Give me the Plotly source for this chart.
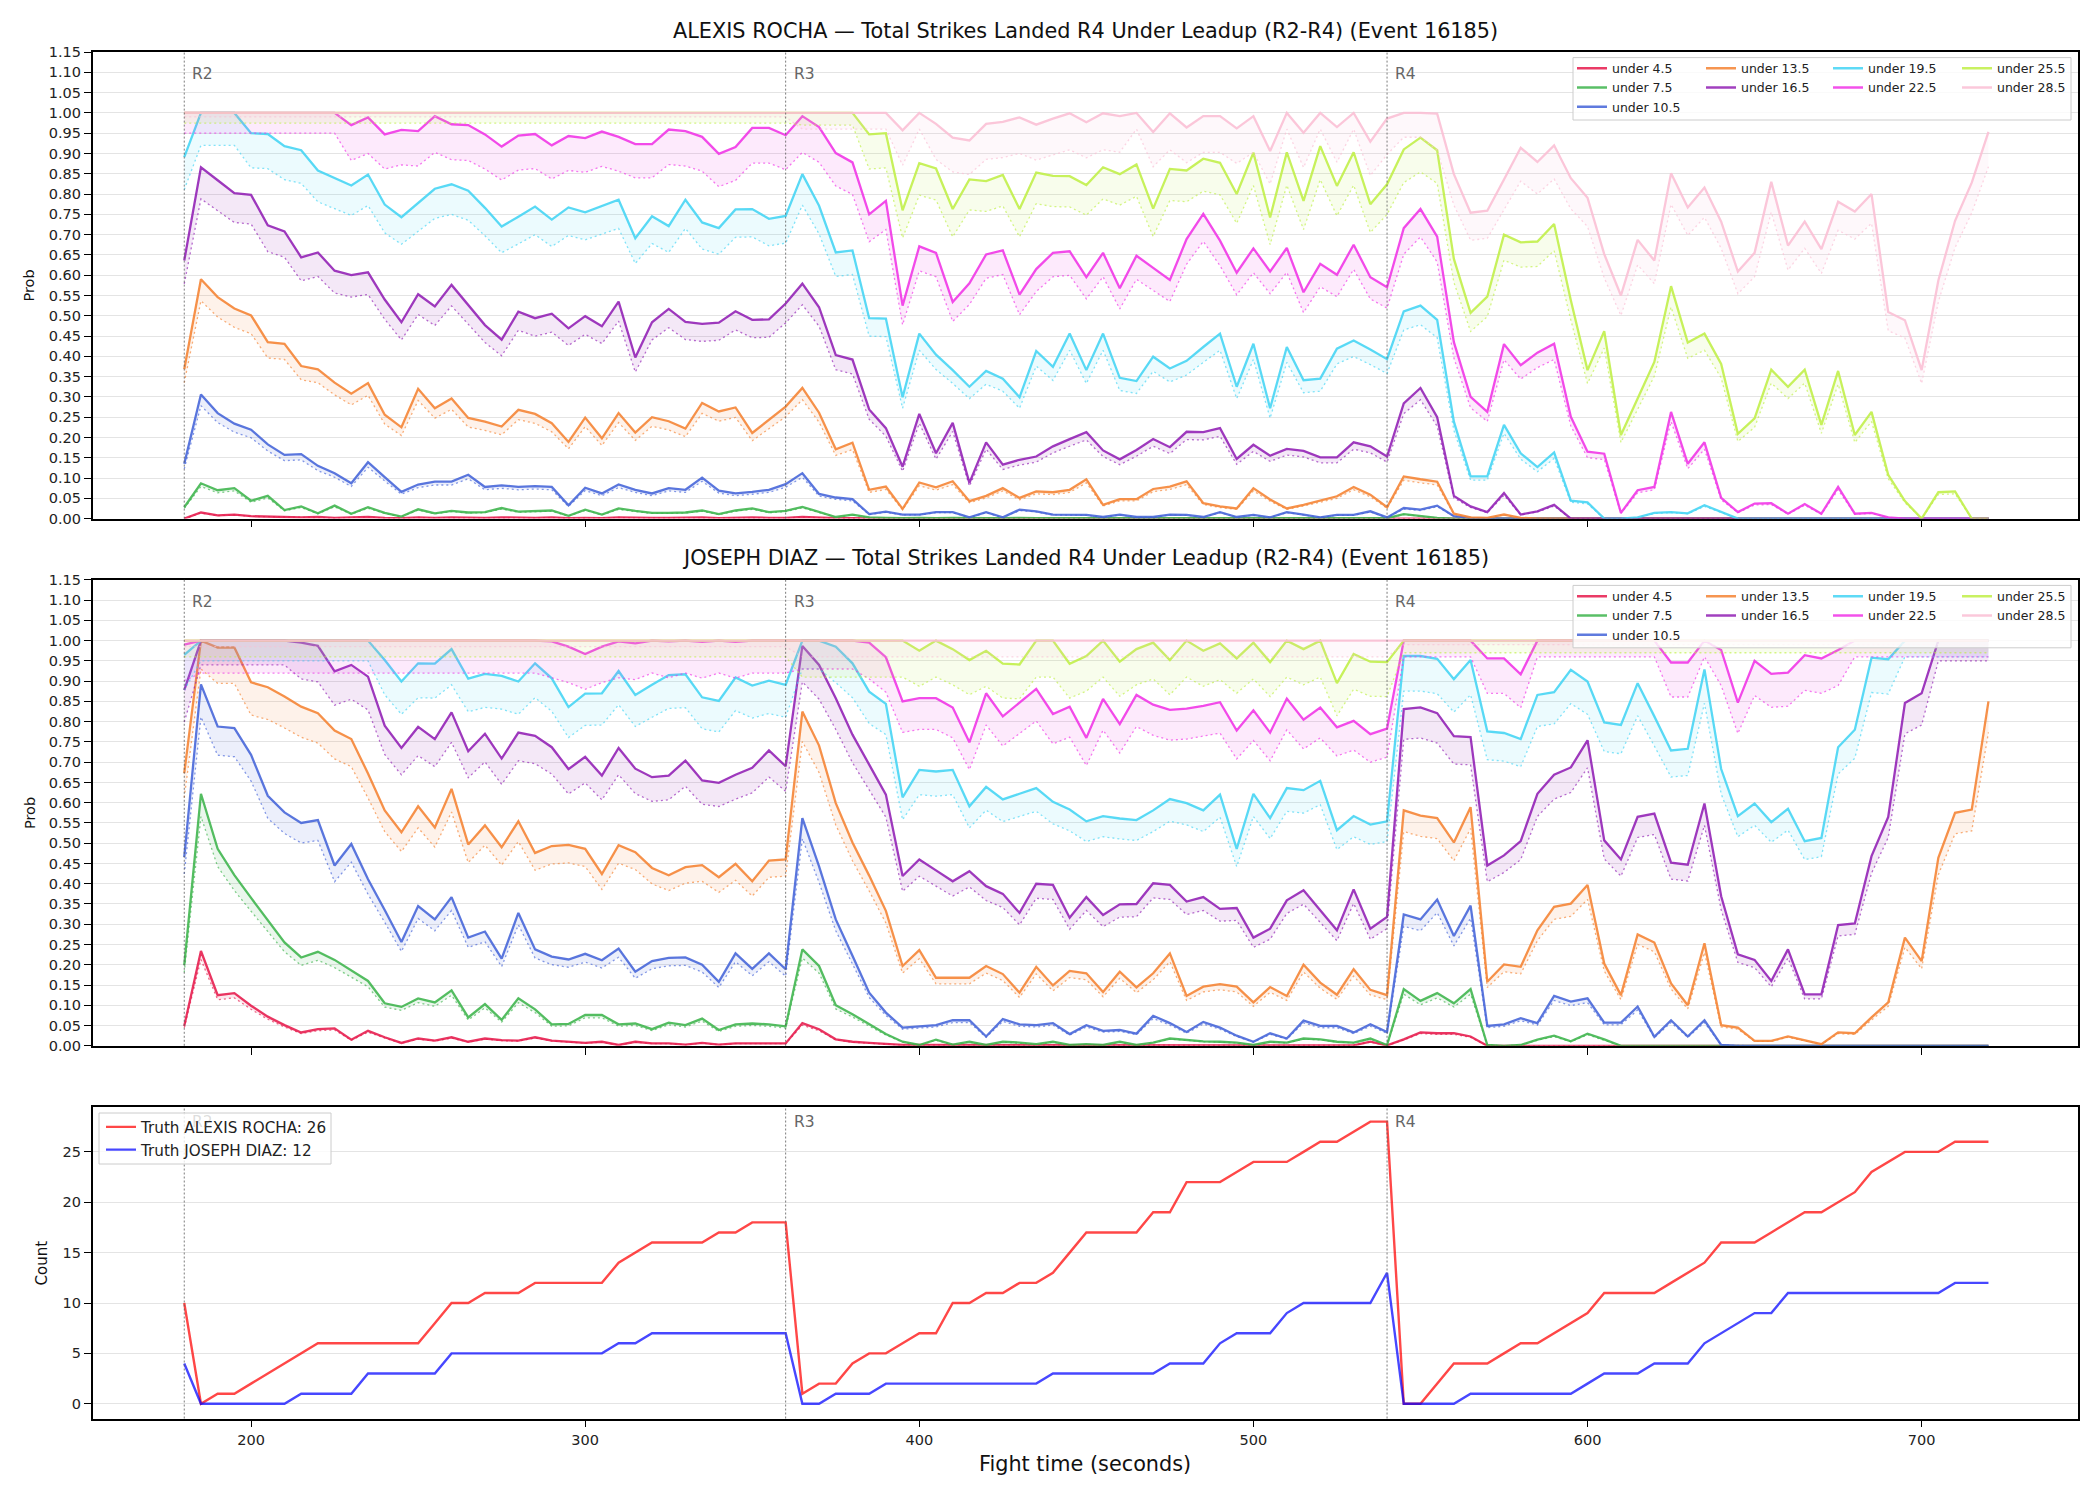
import plotly.graph_objects as go

# ---------------- data ----------------
TIME_S = list(range(180, 725, 5))          # 180 .. 720 s, every 5 s (109 points)
ROUND_STARTS = [180, 360, 540]
ROUND_LABELS = ["R2", "R3", "R4"]
X_TICKS = [200, 300, 400, 500, 600, 700]

SERIES = ["under 4.5", "under 7.5", "under 10.5", "under 13.5", "under 16.5",
          "under 19.5", "under 22.5", "under 25.5", "under 28.5"]
COLORS = ["#e6194b", "#3cb44b", "#4363d8", "#f58231", "#911eb4",
          "#42d4f4", "#f032e6", "#bfef45", "#fabed4"]

# ---- ALEXIS ROCHA probabilities (solid line) : R2 part + R3 part + R4 part
ROCHA_U4_5 = ([0.0, 0.015, 0.008, 0.010, 0.006, 0.005, 0.004, 0.003, 0.004, 0.002,
               0.003, 0.004, 0.002, 0.001, 0.003, 0.002, 0.003, 0.002, 0.002, 0.003,
               0.002, 0.002, 0.003, 0.001, 0.002, 0.001, 0.003, 0.002, 0.002, 0.002,
               0.002, 0.003, 0.001, 0.002, 0.003, 0.002, 0.002]
              + [0.004, 0.002, 0.001, 0.001] + [0.0] * 32 + [0.0] * 36)
ROCHA_U7_5 = ([0.028, 0.087, 0.070, 0.075, 0.044, 0.056, 0.021, 0.030, 0.013, 0.032,
               0.012, 0.028, 0.014, 0.005, 0.023, 0.013, 0.019, 0.015, 0.016, 0.026,
               0.017, 0.018, 0.020, 0.007, 0.022, 0.010, 0.025, 0.019, 0.014, 0.014,
               0.015, 0.020, 0.011, 0.020, 0.025, 0.016, 0.019]
              + [0.029, 0.016, 0.004, 0.010, 0.003, 0.002, 0.001, 0.002, 0.001, 0.002,
                 0.001, 0.001, 0.001, 0.002, 0.001, 0.001, 0.001, 0.002, 0.001, 0.001,
                 0.001, 0.001, 0.001, 0.002, 0.001, 0.001, 0.001, 0.001, 0.001, 0.001,
                 0.001, 0.001, 0.002, 0.001, 0.001, 0.001]
              + [0.011, 0.006, 0.002] + [0.0] * 33)
ROCHA_U10_5 = ([0.135, 0.306, 0.260, 0.234, 0.219, 0.183, 0.157, 0.159, 0.130, 0.112,
                0.087, 0.139, 0.102, 0.066, 0.084, 0.091, 0.091, 0.108, 0.078, 0.082,
                0.078, 0.080, 0.078, 0.033, 0.076, 0.062, 0.084, 0.071, 0.062, 0.075,
                0.071, 0.101, 0.069, 0.062, 0.066, 0.071, 0.085]
               + [0.112, 0.061, 0.052, 0.048, 0.011, 0.017, 0.010, 0.010, 0.016, 0.016,
                  0.003, 0.016, 0.003, 0.022, 0.018, 0.010, 0.010, 0.009, 0.004, 0.010,
                  0.004, 0.004, 0.010, 0.009, 0.004, 0.016, 0.004, 0.009, 0.003, 0.016,
                  0.010, 0.003, 0.009, 0.009, 0.018, 0.003]
               + [0.026, 0.022, 0.032, 0.006, 0.002] + [0.0] * 31)
ROCHA_U13_5 = ([0.368, 0.590, 0.546, 0.518, 0.501, 0.435, 0.431, 0.376, 0.368, 0.335,
                0.308, 0.334, 0.256, 0.225, 0.320, 0.272, 0.296, 0.248, 0.239, 0.227,
                0.268, 0.258, 0.235, 0.189, 0.249, 0.198, 0.260, 0.212, 0.250, 0.240,
                0.222, 0.285, 0.264, 0.274, 0.211, 0.244, 0.276]
               + [0.322, 0.261, 0.171, 0.187, 0.071, 0.079, 0.024, 0.089, 0.077, 0.092,
                  0.043, 0.056, 0.075, 0.051, 0.067, 0.065, 0.071, 0.097, 0.034, 0.048,
                  0.048, 0.073, 0.079, 0.092, 0.038, 0.030, 0.025, 0.075, 0.047, 0.025,
                  0.034, 0.045, 0.055, 0.078, 0.059, 0.028]
               + [0.104, 0.097, 0.091, 0.012, 0.003, 0.002, 0.010, 0.002] + [0.0] * 28)
ROCHA_U16_5 = ([0.636, 0.866, 0.834, 0.802, 0.798, 0.723, 0.708, 0.644, 0.656, 0.611,
                0.600, 0.607, 0.540, 0.484, 0.553, 0.523, 0.576, 0.526, 0.477, 0.441,
                0.510, 0.494, 0.505, 0.469, 0.499, 0.474, 0.535, 0.397, 0.484, 0.517,
                0.485, 0.480, 0.483, 0.511, 0.490, 0.491, 0.530]
               + [0.579, 0.521, 0.403, 0.392, 0.269, 0.223, 0.128, 0.258, 0.161, 0.236,
                  0.088, 0.188, 0.133, 0.145, 0.153, 0.178, 0.196, 0.213, 0.168, 0.146,
                  0.169, 0.196, 0.176, 0.214, 0.213, 0.223, 0.147, 0.182, 0.155, 0.172,
                  0.167, 0.151, 0.151, 0.188, 0.178, 0.153]
               + [0.284, 0.322, 0.250, 0.056, 0.030, 0.016, 0.063, 0.010, 0.018, 0.034]
               + [0.0] * 26)
ROCHA_U19_5 = ([0.891, 1.0, 1.0, 1.0, 0.950, 0.948, 0.918, 0.908, 0.858, 0.840,
                0.821, 0.848, 0.774, 0.743, 0.779, 0.813, 0.824, 0.808, 0.766, 0.720,
                0.744, 0.769, 0.737, 0.767, 0.755, 0.771, 0.786, 0.691, 0.745, 0.721,
                0.786, 0.730, 0.716, 0.762, 0.763, 0.739, 0.746]
               + [0.849, 0.771, 0.656, 0.661, 0.494, 0.493, 0.299, 0.456, 0.404, 0.366,
                  0.325, 0.364, 0.345, 0.299, 0.413, 0.374, 0.456, 0.366, 0.456, 0.347,
                  0.339, 0.399, 0.370, 0.389, 0.423, 0.456, 0.325, 0.431, 0.272, 0.423,
                  0.341, 0.345, 0.419, 0.439, 0.417, 0.393]
               + [0.511, 0.525, 0.490, 0.239, 0.104, 0.104, 0.231, 0.161, 0.127, 0.163,
                  0.044, 0.040, 0.0, 0.0, 0.003, 0.014, 0.016, 0.013, 0.033, 0.016, 0.0]
               + [0.0] * 15)
ROCHA_U22_5 = ([1.0] * 10
               + [0.970, 0.989, 0.947, 0.958, 0.955, 0.992, 0.972, 0.970, 0.947, 0.917,
                  0.944, 0.948, 0.920, 0.943, 0.938, 0.954, 0.941, 0.923, 0.923, 0.959,
                  0.955, 0.941, 0.899, 0.916, 0.963, 0.963, 0.945]
               + [0.992, 0.965, 0.901, 0.878, 0.750, 0.783, 0.525, 0.671, 0.655, 0.534,
                  0.580, 0.651, 0.661, 0.552, 0.615, 0.655, 0.659, 0.595, 0.655, 0.568,
                  0.648, 0.618, 0.588, 0.689, 0.751, 0.685, 0.606, 0.666, 0.609, 0.667,
                  0.558, 0.628, 0.601, 0.675, 0.595, 0.570]
               + [0.716, 0.763, 0.695, 0.435, 0.300, 0.263, 0.430, 0.378, 0.409, 0.431,
                  0.251, 0.165, 0.160, 0.014, 0.070, 0.078, 0.263, 0.135, 0.188, 0.051,
                  0.016, 0.037, 0.038, 0.012, 0.036, 0.012, 0.078, 0.012, 0.014, 0.003]
               + [0.0] * 6)
ROCHA_U25_5 = ([1.0] * 37
               + [1.0, 1.0, 1.0, 1.0, 0.947, 0.950, 0.760, 0.876, 0.863, 0.763,
                  0.836, 0.832, 0.847, 0.763, 0.853, 0.845, 0.844, 0.822, 0.866, 0.849,
                  0.873, 0.764, 0.862, 0.858, 0.887, 0.877, 0.800, 0.902, 0.742, 0.903,
                  0.783, 0.918, 0.820, 0.903, 0.775, 0.824]
               + [0.910, 0.939, 0.908, 0.640, 0.507, 0.547, 0.700, 0.681, 0.683, 0.726,
                  0.538, 0.366, 0.462, 0.206, 0.296, 0.386, 0.573, 0.434, 0.456, 0.381,
                  0.209, 0.247, 0.367, 0.325, 0.367, 0.231, 0.364, 0.206, 0.263, 0.108,
                  0.043, 0.0, 0.065, 0.067, 0.0, 0.0])
ROCHA_U28_5 = ([1.0] * 37
               + [1.0, 1.0, 1.0, 1.0, 1.0, 1.0, 0.957, 1.0, 0.973, 0.939,
                  0.932, 0.973, 0.978, 0.989, 0.971, 0.986, 0.999, 0.977, 0.999, 0.992,
                  1.0, 0.953, 0.999, 0.964, 0.992, 0.992, 0.962, 0.992, 0.906, 1.0,
                  0.951, 1.0, 0.965, 1.0, 0.929, 0.986]
               + [1.0, 1.0, 0.998, 0.849, 0.754, 0.759, 0.836, 0.914, 0.879, 0.920,
                  0.839, 0.791, 0.652, 0.550, 0.687, 0.636, 0.851, 0.767, 0.816, 0.732,
                  0.609, 0.655, 0.830, 0.673, 0.732, 0.664, 0.781, 0.757, 0.800, 0.509,
                  0.489, 0.366, 0.587, 0.734, 0.828, 0.953])

# ---- JOSEPH DIAZ probabilities (solid line)
DIAZ_U4_5 = ([0.049, 0.234, 0.125, 0.130, 0.099, 0.072, 0.051, 0.033, 0.041, 0.043,
              0.015, 0.037, 0.021, 0.007, 0.018, 0.013, 0.021, 0.010, 0.018, 0.014,
              0.013, 0.021, 0.013, 0.010, 0.007, 0.010, 0.002, 0.010, 0.006, 0.006,
              0.003, 0.007, 0.003, 0.006, 0.006, 0.006, 0.006]
             + [0.056, 0.041, 0.016, 0.010, 0.007, 0.004, 0.002, 0.002, 0.002]
             + [0.001] * 25 + [0.010, 0.001]
             + [0.016, 0.033, 0.031, 0.031, 0.023] + [0.0] * 31)
DIAZ_U7_5 = ([0.199, 0.622, 0.486, 0.421, 0.365, 0.310, 0.255, 0.218, 0.232, 0.212,
              0.185, 0.160, 0.105, 0.096, 0.117, 0.107, 0.137, 0.070, 0.103, 0.064,
              0.117, 0.090, 0.053, 0.054, 0.076, 0.076, 0.053, 0.055, 0.041, 0.057,
              0.051, 0.067, 0.039, 0.053, 0.055, 0.053, 0.048]
             + [0.238, 0.197, 0.100, 0.078, 0.053, 0.029, 0.010, 0.002, 0.015, 0.003,
                0.010, 0.002, 0.010, 0.008, 0.004, 0.010, 0.002, 0.004, 0.002, 0.010,
                0.002, 0.008, 0.018, 0.015, 0.011, 0.010, 0.008, 0.002, 0.010, 0.008,
                0.018, 0.016, 0.010, 0.008, 0.018, 0.002]
             + [0.140, 0.111, 0.130, 0.105, 0.140, 0.002, 0.0, 0.002, 0.015, 0.025,
                0.011, 0.030, 0.016] + [0.0] * 23)
DIAZ_U10_5 = ([0.466, 0.892, 0.788, 0.784, 0.718, 0.617, 0.576, 0.550, 0.557, 0.445,
               0.498, 0.411, 0.335, 0.256, 0.345, 0.312, 0.367, 0.267, 0.282, 0.215,
               0.328, 0.238, 0.220, 0.213, 0.227, 0.211, 0.240, 0.183, 0.209, 0.217,
               0.218, 0.200, 0.158, 0.228, 0.190, 0.228, 0.189]
              + [0.562, 0.443, 0.312, 0.222, 0.131, 0.082, 0.045, 0.048, 0.051, 0.063,
                 0.063, 0.023, 0.066, 0.053, 0.051, 0.056, 0.029, 0.051, 0.037, 0.039,
                 0.030, 0.074, 0.056, 0.034, 0.059, 0.045, 0.025, 0.010, 0.031, 0.018,
                 0.062, 0.049, 0.049, 0.033, 0.053, 0.034]
              + [0.324, 0.312, 0.361, 0.271, 0.346, 0.049, 0.053, 0.068, 0.056, 0.123,
                 0.109, 0.117, 0.057, 0.057, 0.097, 0.022, 0.063, 0.023, 0.063, 0.002]
              + [0.0] * 16)
DIAZ_U13_5 = ([0.673, 1.0, 0.983, 0.983, 0.897, 0.885, 0.862, 0.837, 0.821, 0.778,
               0.757, 0.672, 0.581, 0.527, 0.591, 0.539, 0.634, 0.497, 0.544, 0.490,
               0.554, 0.476, 0.493, 0.496, 0.486, 0.424, 0.495, 0.478, 0.439, 0.421,
               0.441, 0.446, 0.416, 0.449, 0.406, 0.457, 0.460]
              + [0.825, 0.741, 0.599, 0.502, 0.420, 0.333, 0.197, 0.236, 0.168, 0.168,
                 0.168, 0.197, 0.177, 0.131, 0.195, 0.149, 0.185, 0.179, 0.133, 0.183,
                 0.144, 0.179, 0.228, 0.123, 0.146, 0.152, 0.146, 0.107, 0.145, 0.123,
                 0.200, 0.156, 0.126, 0.189, 0.138, 0.125]
              + [0.581, 0.568, 0.562, 0.502, 0.589, 0.158, 0.201, 0.195, 0.285, 0.343,
                 0.351, 0.397, 0.203, 0.125, 0.275, 0.255, 0.154, 0.100, 0.253, 0.051,
                 0.045, 0.012, 0.012, 0.023, 0.014, 0.004, 0.033, 0.031, 0.070, 0.107,
                 0.267, 0.209, 0.464, 0.575, 0.583, 0.850])
DIAZ_U16_5 = ([0.878, 1.0, 1.0, 1.0, 1.0, 1.0, 1.0, 0.995, 0.987, 0.924,
               0.940, 0.911, 0.790, 0.735, 0.787, 0.757, 0.823, 0.727, 0.770, 0.709,
               0.773, 0.765, 0.737, 0.683, 0.713, 0.667, 0.735, 0.684, 0.663, 0.667,
               0.704, 0.655, 0.649, 0.669, 0.686, 0.729, 0.690]
              + [0.987, 0.940, 0.858, 0.768, 0.694, 0.620, 0.419, 0.460, 0.433, 0.406,
                 0.431, 0.394, 0.375, 0.328, 0.400, 0.397, 0.316, 0.367, 0.323, 0.349,
                 0.350, 0.401, 0.397, 0.356, 0.367, 0.338, 0.340, 0.267, 0.289, 0.359,
                 0.384, 0.335, 0.285, 0.386, 0.289, 0.318]
              + [0.831, 0.835, 0.821, 0.764, 0.762, 0.445, 0.470, 0.505, 0.622, 0.669,
                 0.687, 0.754, 0.507, 0.460, 0.565, 0.573, 0.452, 0.447, 0.598, 0.369,
                 0.226, 0.212, 0.160, 0.238, 0.127, 0.127, 0.298, 0.302, 0.468, 0.565,
                 0.846, 0.870, 1.0, 1.0, 1.0, 1.0])
DIAZ_U19_5 = ([0.965] + [1.0] * 11
              + [0.952, 0.899, 0.944, 0.943, 0.979, 0.906, 0.918, 0.913,
                 0.899, 0.944, 0.907, 0.836, 0.869, 0.870, 0.925, 0.866, 0.891, 0.915,
                 0.917, 0.860, 0.851, 0.909, 0.889, 0.901, 0.891]
              + [1.0, 1.0, 0.985, 0.944, 0.874, 0.844, 0.613, 0.681, 0.677, 0.681,
                 0.591, 0.639, 0.608, 0.622, 0.636, 0.602, 0.583, 0.554, 0.567, 0.561,
                 0.557, 0.581, 0.609, 0.599, 0.581, 0.620, 0.486, 0.622, 0.562, 0.636,
                 0.631, 0.654, 0.532, 0.567, 0.546, 0.554]
              + [0.962, 0.962, 0.955, 0.905, 0.952, 0.776, 0.772, 0.757, 0.866, 0.873,
                 0.928, 0.899, 0.798, 0.792, 0.895, 0.813, 0.729, 0.733, 0.929, 0.683,
                 0.567, 0.598, 0.552, 0.585, 0.505, 0.513, 0.737, 0.780, 0.958, 0.954]
              + [1.0] * 6)
DIAZ_U22_5 = ([0.99] + [1.0] * 21
              + [0.998, 0.985, 0.967, 0.985, 0.998, 0.993, 1.0, 0.998, 1.0, 0.997,
                 1.0, 0.997, 1.0, 1.0, 1.0]
              + [1.0, 1.0, 1.0, 1.0, 0.995, 0.959, 0.850, 0.858, 0.858, 0.835,
                 0.749, 0.870, 0.813, 0.846, 0.881, 0.819, 0.837, 0.760, 0.856, 0.794,
                 0.866, 0.842, 0.829, 0.832, 0.839, 0.848, 0.778, 0.828, 0.773, 0.857,
                 0.805, 0.835, 0.786, 0.802, 0.769, 0.783]
              + [1.0] * 5 + [0.956, 0.956, 0.917] + [1.0] * 8
              + [0.946, 0.946, 1.0, 0.977, 0.847, 0.950, 0.918, 0.921, 0.964, 0.956, 0.977]
              + [1.0] * 9)
DIAZ_U25_5 = ([1.0] * 37
              + [1.0] * 7
              + [0.975, 1.0, 0.979,
                 0.952, 0.975, 0.943, 0.941, 1.0, 1.0, 0.943, 0.962, 1.0, 0.948,
                 0.979, 0.995, 0.952, 1.0, 0.975, 0.993, 0.956, 0.995, 0.947, 1.0,
                 0.979, 1.0, 0.895, 0.967, 0.948, 0.947]
              + [1.0] * 36)
DIAZ_U28_5 = [1.0] * 109

# dotted "raw" line: read as ~0.91 x solid line where the solid line is below 1,
# and as the per-round level read off the chart where the solid line sits at 1.0
DOTTED_RATIO = 0.91
ROCHA_SAT_DOTTED = {"under 19.5": (0.92, 0.93, 0.95), "under 22.5": (0.95, 0.93, 0.95),
                    "under 25.5": (0.975, 0.97, 0.95), "under 28.5": (0.99, 0.96, 0.94)}
DIAZ_SAT_DOTTED = {"under 13.5": (0.93, 0.93, 0.93), "under 16.5": (0.94, 0.93, 0.95),
                   "under 19.5": (0.95, 0.93, 0.96), "under 22.5": (0.92, 0.93, 0.96),
                   "under 25.5": (0.96, 0.91, 0.97), "under 28.5": (0.985, 0.96, 0.99)}

# ---- truth counts
TRUTH_ROCHA = ([10, 0, 1, 1, 2, 3, 4, 5, 6, 6, 6, 6, 6, 6, 6, 8, 10, 10, 11, 11, 11, 12, 12,
                12, 12, 12, 14, 15, 16, 16, 16, 16, 17, 17, 18, 18, 18]
               + [1, 2, 2, 4, 5, 5, 6, 7, 7, 10, 10, 11, 11, 12, 12, 13, 15, 17, 17, 17, 17,
                  19, 19, 22, 22, 22, 23, 24, 24, 24, 25, 26, 26, 27, 28, 28]
               + [0, 0, 2, 4, 4, 4, 5, 6, 6, 7, 8, 9, 11, 11, 11, 11, 12, 13, 14, 16, 16, 16,
                  17, 18, 19, 19, 20, 21, 23, 24, 25, 25, 25, 26, 26, 26])
TRUTH_DIAZ = ([4, 0, 0, 0, 0, 0, 0, 1, 1, 1, 1, 3, 3, 3, 3, 3, 5, 5, 5, 5, 5, 5, 5, 5, 5, 5,
               6, 6, 7, 7, 7, 7, 7, 7, 7, 7, 7]
              + [0, 0, 1, 1, 1, 2, 2, 2, 2, 2, 2, 2, 2, 2, 2, 3, 3, 3, 3, 3, 3, 3, 4, 4, 4,
                 6, 7, 7, 7, 9, 10, 10, 10, 10, 10, 13]
              + [0, 0, 0, 0, 1, 1, 1, 1, 1, 1, 1, 2, 3, 3, 3, 4, 4, 4, 6, 7, 8, 9, 9, 11, 11,
                 11, 11, 11, 11, 11, 11, 11, 11, 12, 12, 12])

ROCHA = dict(zip(SERIES, [ROCHA_U4_5, ROCHA_U7_5, ROCHA_U10_5, ROCHA_U13_5, ROCHA_U16_5,
                          ROCHA_U19_5, ROCHA_U22_5, ROCHA_U25_5, ROCHA_U28_5]))
DIAZ = dict(zip(SERIES, [DIAZ_U4_5, DIAZ_U7_5, DIAZ_U10_5, DIAZ_U13_5, DIAZ_U16_5,
                         DIAZ_U19_5, DIAZ_U22_5, DIAZ_U25_5, DIAZ_U28_5]))

for nm, d in (("ROCHA", ROCHA), ("DIAZ", DIAZ)):
    for s, v in d.items():
        if len(v) != len(TIME_S):
            raise ValueError(f"{nm} {s}: {len(v)} values")
for nm, v in (("TRUTH_ROCHA", TRUTH_ROCHA), ("TRUTH_DIAZ", TRUTH_DIAZ)):
    if len(v) != len(TIME_S):
        raise ValueError(f"{nm}: {len(v)} values")

# ---------------- figure ----------------
W, H = 2100, 1500
FONT = "DejaVu Sans"
X0, X1 = 92.7 / W, 2078 / W
XRANGE = [152.6, 746.8]
DOM_TOP = [1 - 518.6 / H, 1 - 52 / H]
DOM_MID = [1 - 1045.8 / H, 1 - 579.8 / H]
DOM_BOT = [1 - 1418.5 / H, 1 - 1107 / H]


def rgba(hexc, a):
    h = hexc.lstrip("#")
    r, g, b = int(h[0:2], 16), int(h[2:4], 16), int(h[4:6], 16)
    return f"rgba({r},{g},{b},{a})"


def dotted_line(vals, sat):
    out = []
    for i, v in enumerate(vals):
        r = 0 if i <= 36 else (1 if i <= 72 else 2)
        out.append(sat[r] if v >= 0.9995 else v * DOTTED_RATIO)
    return out


fig = go.Figure()


def add_panel(data, satmap, xa, ya):
    for name, col in zip(SERIES, COLORS):
        main = data[name]
        low = dotted_line(main, satmap.get(name, (0.95, 0.95, 0.95)))
        fig.add_trace(go.Scatter(x=TIME_S, y=low, xaxis=xa, yaxis=ya, mode="lines",
                                 line=dict(color=rgba(col, 0.65), width=1.3, dash="2px,3px"),
                                 showlegend=False, hoverinfo="skip"))
        fig.add_trace(go.Scatter(x=TIME_S, y=main, xaxis=xa, yaxis=ya, mode="lines",
                                 fill="tonexty", fillcolor=rgba(col, 0.10),
                                 line=dict(color=rgba(col, 0.88), width=2.3),
                                 showlegend=False, name=name))


add_panel(ROCHA, ROCHA_SAT_DOTTED, "x", "y")
add_panel(DIAZ, DIAZ_SAT_DOTTED, "x2", "y2")

fig.add_trace(go.Scatter(x=TIME_S, y=TRUTH_ROCHA, xaxis="x3", yaxis="y3", mode="lines",
                         line=dict(color="rgba(255,0,0,0.72)", width=2.4),
                         name="Truth ALEXIS ROCHA: 26", legend="legend9"))
fig.add_trace(go.Scatter(x=TIME_S, y=TRUTH_DIAZ, xaxis="x3", yaxis="y3", mode="lines",
                         line=dict(color="rgba(0,0,255,0.72)", width=2.4),
                         name="Truth JOSEPH DIAZ: 12", legend="legend9"))

# legend entries (4 columns, column-major like the reference)
LEG_COLS = [["under 4.5", "under 7.5", "under 10.5"], ["under 13.5", "under 16.5"],
            ["under 19.5", "under 22.5"], ["under 25.5", "under 28.5"]]
LEG_X = [1572 / W, 1701 / W, 1828 / W, 1957 / W]
col_of = dict(zip(SERIES, COLORS))
legend_layouts = {}
for p, (ya, ytop) in enumerate((("y", 1 - 53.7 / H), ("y2", 1 - 581.5 / H))):
    for c, names in enumerate(LEG_COLS):
        lid = "legend" if (p == 0 and c == 0) else f"legend{p * 4 + c + 1}"
        for nm in names:
            fig.add_trace(go.Scatter(x=[None], y=[None], xaxis="x" if ya == "y" else "x2", yaxis=ya,
                                     mode="lines", line=dict(color=rgba(col_of[nm], 0.85), width=2.5),
                                     name=nm, legend=lid, showlegend=True))
        legend_layouts[lid] = dict(x=LEG_X[c], y=ytop, xanchor="left", yanchor="top",
                                   orientation="v", bgcolor="rgba(0,0,0,0)", borderwidth=0,
                                   font=dict(family=FONT, size=12.5, color="#222"),
                                   tracegroupgap=0, itemwidth=30, traceorder="normal")
legend_layouts["legend9"] = dict(x=101 / W, y=1 - 1110.5 / H, xanchor="left", yanchor="top",
                                 orientation="v", bgcolor="rgba(0,0,0,0)", borderwidth=0,
                                 font=dict(family=FONT, size=15.2, color="#222"),
                                 tracegroupgap=0, itemwidth=30, traceorder="normal")

axis_common = dict(showline=True, mirror=True, linecolor="black", linewidth=1.5,
                   ticks="outside", ticklen=7, tickwidth=1.4, tickcolor="black",
                   tickfont=dict(family=FONT, size=14.5, color="#222"), zeroline=False,
                   automargin=False)

xaxis_common = dict(axis_common, range=XRANGE, tickmode="array", tickvals=X_TICKS,
                    showgrid=False, domain=[X0, X1])

layout = dict(
    width=W, height=H, margin=dict(l=0, r=0, t=0, b=0, pad=0, autoexpand=False),
    paper_bgcolor="white", plot_bgcolor="white", showlegend=True,
    xaxis=dict(xaxis_common, anchor="y", showticklabels=False),
    xaxis2=dict(xaxis_common, anchor="y2", showticklabels=False),
    xaxis3=dict(xaxis_common, anchor="y3", showticklabels=True),
    yaxis=dict(axis_common, domain=DOM_TOP, anchor="x", range=[0, 1.1501], tick0=0, dtick=0.05,
               tickformat=".2f", showgrid=True, gridcolor="#e4e4e4", gridwidth=1),
    yaxis2=dict(axis_common, domain=DOM_MID, anchor="x2", range=[0, 1.1501], tick0=0, dtick=0.05,
                tickformat=".2f", showgrid=True, gridcolor="#e4e4e4", gridwidth=1),
    yaxis3=dict(axis_common, domain=DOM_BOT, anchor="x3", range=[-1.46, 29.45], tick0=0, dtick=5,
                showgrid=True, gridcolor="#e4e4e4", gridwidth=1),
)
layout.update(legend_layouts)
fig.update_layout(**layout)

# round marker lines + labels
shapes = []
annotations = []
for xa, ya in (("x", "y"), ("x2", "y2"), ("x3", "y3")):
    for t, lab in zip(ROUND_STARTS, ROUND_LABELS):
        shapes.append(dict(type="line", xref=xa, yref=f"{ya} domain", x0=t, x1=t, y0=0, y1=1,
                           line=dict(color="rgba(90,90,90,0.8)", width=1, dash="2px,2px"),
                           layer="above"))
        faint = (ya == "y3" and lab == "R2")
        annotations.append(dict(text=lab, xref=xa, yref=f"{ya} domain", x=t, y=0.952,
                                xanchor="left", yanchor="middle", xshift=6, showarrow=False,
                                font=dict(family=FONT, size=15.5,
                                          color="rgba(100,100,100,0.22)" if faint else "#666")))

# legend frames
for (x0, x1, y0, y1) in ((1573, 2071, 57.6, 120), (1573, 2071, 585.4, 647.8), (99, 331, 1113, 1164)):
    shapes.append(dict(type="rect", xref="paper", yref="paper", x0=x0 / W, x1=x1 / W,
                       y0=1 - y1 / H, y1=1 - y0 / H, fillcolor="rgba(255,255,255,0.8)",
                       line=dict(color="#cccccc", width=1), layer="above"))

XC = (X0 + X1) / 2
annotations += [
    dict(text="ALEXIS ROCHA — Total Strikes Landed R4 Under Leadup (R2-R4) (Event 16185)",
         xref="paper", yref="paper", x=XC, y=1 - 31 / H, showarrow=False,
         xanchor="center", yanchor="middle", font=dict(family=FONT, size=20.8, color="#111")),
    dict(text="JOSEPH DIAZ — Total Strikes Landed R4 Under Leadup (R2-R4) (Event 16185)",
         xref="paper", yref="paper", x=XC, y=1 - 558 / H, showarrow=False,
         xanchor="center", yanchor="middle", font=dict(family=FONT, size=20.8, color="#111")),
    dict(text="Fight time (seconds)", xref="paper", yref="paper", x=XC, y=1 - 1464 / H,
         showarrow=False, xanchor="center", yanchor="middle",
         font=dict(family=FONT, size=20.8, color="#111")),
    dict(text="Prob", xref="paper", yref="paper", x=29.3 / W, y=sum(DOM_TOP) / 2, textangle=-90,
         showarrow=False, xanchor="center", yanchor="middle",
         font=dict(family=FONT, size=14.5, color="#111")),
    dict(text="Prob", xref="paper", yref="paper", x=29.3 / W, y=sum(DOM_MID) / 2, textangle=-90,
         showarrow=False, xanchor="center", yanchor="middle",
         font=dict(family=FONT, size=14.5, color="#111")),
    dict(text="Count", xref="paper", yref="paper", x=41.7 / W, y=sum(DOM_BOT) / 2, textangle=-90,
         showarrow=False, xanchor="center", yanchor="middle",
         font=dict(family=FONT, size=15, color="#111")),
]
fig.update_layout(shapes=shapes, annotations=annotations, hovermode=False)

fig.write_html("out.html")
